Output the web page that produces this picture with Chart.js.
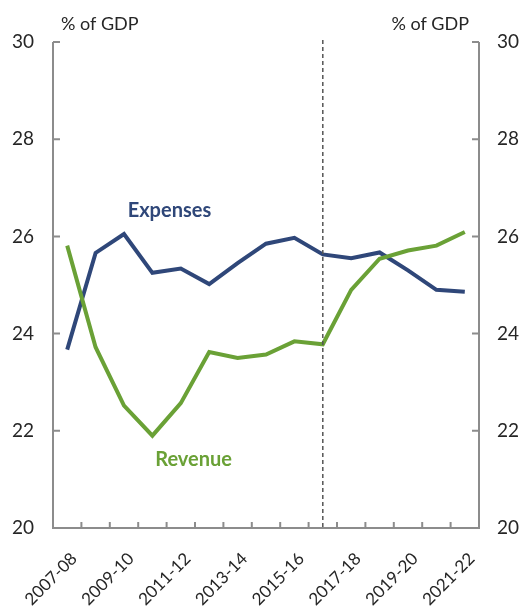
<!DOCTYPE html>
<html>
<head>
<meta charset="utf-8">
<script src="https://cdn.jsdelivr.net/npm/chart.js@4.4.1/dist/chart.umd.min.js"></script>
<style>
  html, body { margin: 0; padding: 0; background: #fff; }
  #wrap { width: 521px; height: 606px; }
</style>
</head>
<body>
<div id="wrap"><canvas id="chart" width="521" height="606"></canvas></div>
<script>
// Financial years on the x axis
const years = ["2007-08", "2008-09", "2009-10", "2010-11", "2011-12", "2012-13", "2013-14", "2014-15",
    "2015-16", "2016-17", "2017-18", "2018-19", "2019-20", "2020-21", "2021-22"];

// Per cent of GDP
const expenses = [23.67, 25.66, 26.05, 25.25, 25.34, 25.02, 25.45, 25.85, 25.97, 25.63, 25.55, 25.67, 25.3, 24.9, 24.86];
const revenue = [25.81, 23.72, 22.52, 21.9, 22.57, 23.62, 23.5, 23.57, 23.84, 23.78, 24.9, 25.54, 25.71, 25.81, 26.09];

const yTicks = [20, 22, 24, 26, 28, 30];
const splitYear = "2016-17";   // dashed line: actuals vs estimates

const axisGrey = '#8c8c8c';
const textColor = '#262626';
const blue = '#2f4779';
const green = '#6aa136';
const fontFamily = 'Lato, "Noto Sans", sans-serif';

// Axis lines with inward tick marks, rotated year labels, the dashed divider and the series labels
const decorPlugin = {
    id: 'decor',
    afterDatasetsDraw(chart) {
        const ctx = chart.ctx;
        const area = chart.chartArea;
        const x = chart.scales.x;
        const y = chart.scales.y;

        ctx.save();
        ctx.strokeStyle = axisGrey;
        ctx.lineWidth = 2;

        // axis lines
        ctx.beginPath();
        ctx.moveTo(area.left, area.top);
        ctx.lineTo(area.left, area.bottom);
        ctx.lineTo(area.right, area.bottom);
        ctx.lineTo(area.right, area.top);
        ctx.stroke();

        // y ticks pointing in
        yTicks.forEach(function(v) {
            const py = y.getPixelForValue(v);
            ctx.beginPath();
            ctx.moveTo(area.left, py);
            ctx.lineTo(area.left + 7, py);
            ctx.moveTo(area.right, py);
            ctx.lineTo(area.right - 7, py);
            ctx.stroke();
        });

        // x ticks between categories
        for (let i = 1; i < years.length; i++) {
            const px = (x.getPixelForValue(i - 1) + x.getPixelForValue(i)) / 2;
            ctx.beginPath();
            ctx.moveTo(px, area.bottom);
            ctx.lineTo(px, area.bottom - 6);
            ctx.stroke();
        }

        // every second year, rotated 45 degrees
        ctx.fillStyle = textColor;
        ctx.font = '17px ' + fontFamily;
        ctx.textAlign = 'right';
        ctx.textBaseline = 'middle';
        years.forEach(function(label, i) {
            if (i % 2 !== 0) return;
            ctx.save();
            ctx.translate(x.getPixelForValue(i) + 7, area.bottom + 28);
            ctx.rotate(-Math.PI / 4);
            ctx.fillText(label, 0, 0);
            ctx.restore();
        });

        // dashed divider
        const dx = x.getPixelForValue(years.indexOf(splitYear));
        ctx.strokeStyle = '#555';
        ctx.lineWidth = 1.5;
        ctx.setLineDash([4, 3]);
        ctx.beginPath();
        ctx.moveTo(dx, area.top - 2);
        ctx.lineTo(dx, area.bottom);
        ctx.stroke();
        ctx.setLineDash([]);

        // unit labels
        ctx.fillStyle = textColor;
        ctx.font = '18px ' + fontFamily;
        ctx.textBaseline = 'middle';
        ctx.textAlign = 'left';
        ctx.fillText('% of GDP', area.left + 8, 24);
        ctx.textAlign = 'right';
        ctx.fillText('% of GDP', area.right - 10, 24);

        // series labels
        ctx.font = 'bold 20px ' + fontFamily;
        ctx.textAlign = 'center';
        ctx.fillStyle = blue;
        ctx.fillText('Expenses', x.getPixelForValue(3.6), y.getPixelForValue(26.53));
        ctx.fillStyle = green;
        ctx.fillText('Revenue', x.getPixelForValue(4.45), y.getPixelForValue(21.4));
        ctx.restore();
    }
};

const ctx = document.getElementById('chart').getContext('2d');
const chart = new Chart(ctx, {
    type: 'line',
    data: {
        labels: years,
        datasets: [{
            label: 'Revenue',
            data: revenue,
            borderColor: green,
            borderWidth: 4,
            pointRadius: 0,
            tension: 0,
            yAxisID: 'y'
        }, {
            label: 'Expenses',
            data: expenses,
            borderColor: blue,
            borderWidth: 4,
            pointRadius: 0,
            tension: 0,
            yAxisID: 'y'
        }]
    },
    options: {
        responsive: false,
        animation: false,
        layout: {
            padding: { top: 42, left: 0, right: 0, bottom: 0 }
        },
        plugins: {
            legend: { display: false },
            tooltip: { enabled: false }
        },
        scales: {
            x: {
                offset: true,
                grid: { display: false, drawTicks: false },
                border: { display: false },
                ticks: { display: false },
                afterFit: function(scale) { scale.height = 78; }
            },
            y: {
                position: 'left',
                min: 20,
                max: 30,
                grid: { display: false, drawTicks: false },
                border: { display: false },
                ticks: {
                    stepSize: 2,
                    padding: 19,
                    color: textColor,
                    font: { family: fontFamily, size: 19 }
                },
                afterFit: function(scale) { scale.width = 53; }
            },
            y2: {
                position: 'right',
                min: 20,
                max: 30,
                grid: { display: false, drawTicks: false },
                border: { display: false },
                ticks: {
                    stepSize: 2,
                    padding: 18,
                    color: textColor,
                    font: { family: fontFamily, size: 19 }
                },
                afterFit: function(scale) { scale.width = 42; }
            }
        }
    },
    plugins: [decorPlugin]
});
</script>
</body>
</html>
